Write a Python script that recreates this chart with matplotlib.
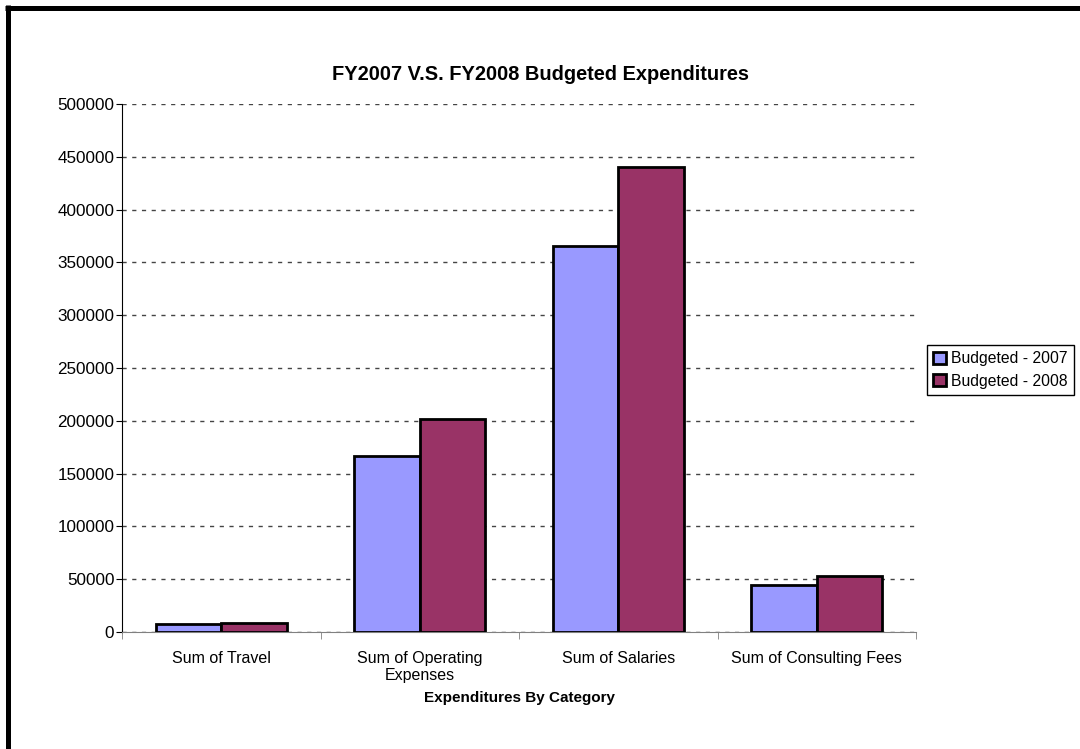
import matplotlib
matplotlib.use('Agg')
import matplotlib.pyplot as plt
from matplotlib.lines import Line2D
import numpy as np

plt.rcParams['font.family'] = ['Liberation Sans', 'DejaVu Sans']

categories = ['Sum of Travel', 'Sum of Operating\nExpenses', 'Sum of Salaries', 'Sum of Consulting Fees']
budget_2007 = [7700, 166700, 365500, 44500]
budget_2008 = [8700, 202000, 440300, 53500]
series_names = ['Budgeted - 2007', 'Budgeted - 2008']

W, H = 1080, 749
fig = plt.figure(figsize=(W / 100, H / 100), dpi=100)
ax = fig.add_axes([122 / W, 1 - 632 / H, (916 - 122) / W, (632 - 104) / H])

x = np.arange(len(categories))
bw = 0.33
ax.bar(x - bw / 2, budget_2007, bw, color='#9999FF', edgecolor='black', linewidth=2,
       label=series_names[0], zorder=3)
ax.bar(x + bw / 2, budget_2008, bw, color='#993366', edgecolor='black', linewidth=2,
       label=series_names[1], zorder=3)

ax.set_xlim(-0.5, len(categories) - 0.5)
ax.set_ylim(0, 500000)
ax.set_yticks(np.arange(0, 500001, 50000))
ax.set_xticks(x)
ax.set_xticklabels(categories, fontsize=11.5, linespacing=1.1)
ax.set_xticks(np.arange(-0.5, len(categories)), minor=True)
ax.tick_params(axis='x', which='major', length=0, pad=14)
ax.tick_params(axis='x', which='minor', length=5, color='#808080', direction='out')
ax.tick_params(axis='y', length=4, labelsize=12.3, direction='out', pad=1.5)

ax.yaxis.grid(True, linestyle=(0, (3, 4)), color='#444444', linewidth=1, zorder=0)
ax.set_axisbelow(True)
for s in ['top', 'right']:
    ax.spines[s].set_visible(False)
ax.spines['left'].set_color('black')
ax.spines['bottom'].set_color('#808080')

ax.set_xlabel('Expenditures By Category', fontsize=11, fontweight='bold', labelpad=6)
fig.text(0.5, 1 - 75 / H, 'FY2007 V.S. FY2008 Budgeted Expenditures', ha='center', va='center',
         fontsize=14.4, fontweight='bold')

leg = fig.legend(loc='center left', bbox_to_anchor=(927 / W, 1 - 370 / H), fontsize=11.3,
                 frameon=True, fancybox=False, framealpha=1, edgecolor='black',
                 handlelength=0.8, handleheight=0.8, handletextpad=0.35, borderpad=0.4,
                 labelspacing=0.5, borderaxespad=0)
leg.get_frame().set_linewidth(1)

# thick frame on top and left edge
fig.add_artist(Line2D([5 / W, 1], [1 - 7.5 / H, 1 - 7.5 / H], color='black', linewidth=3.6,
                      transform=fig.transFigure, solid_capstyle='butt'))
fig.add_artist(Line2D([7.5 / W, 7.5 / W], [0, 1 - 5 / H], color='black', linewidth=3.6,
                      transform=fig.transFigure, solid_capstyle='butt'))

fig.savefig('out.png', dpi=100)
